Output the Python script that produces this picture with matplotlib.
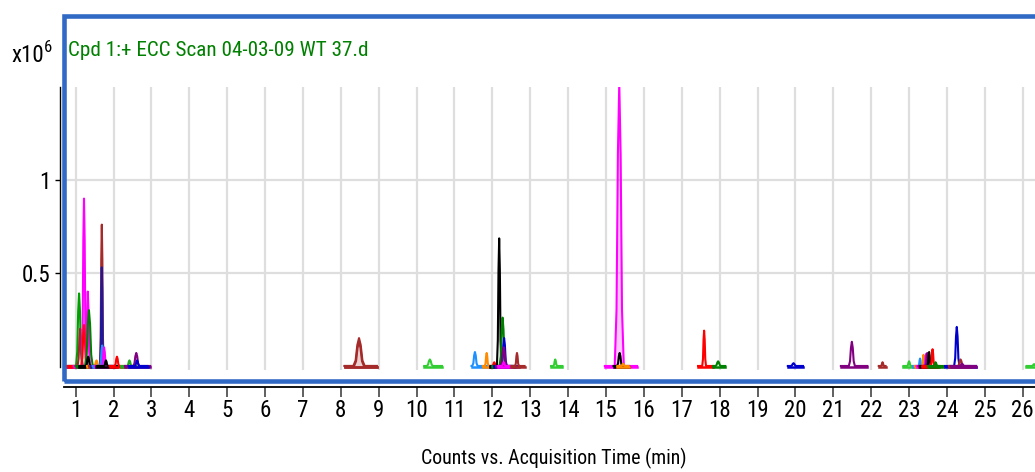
import os
import matplotlib
matplotlib.use("Agg")
import matplotlib.pyplot as plt
from matplotlib import font_manager
from matplotlib.font_manager import FontProperties
from matplotlib.patches import Rectangle

# ---------------- data (intensity in units of 1e6 counts, time in min) ----------------
peak_rt = [1.09, 1.12, 1.22, 1.22, 1.32, 1.35, 1.33, 1.55, 1.69, 1.69, 1.70, 1.75, 1.80,
           2.09, 2.42, 2.60, 2.62,
           8.48, 8.48, 10.35, 11.54, 11.85, 12.05, 12.18, 12.27, 12.31, 12.30, 12.30, 12.65, 13.66,
           15.35, 15.36, 15.45,
           17.59, 17.96, 19.95, 21.49, 22.30, 23.00, 23.29, 23.38, 23.45, 23.48, 23.53, 23.62, 23.70,
           24.26, 24.36, 24.40, 26.30]
peak_height = [0.39, 0.20, 0.90, 0.22, 0.40, 0.30, 0.05, 0.03, 0.76, 0.53, 0.11, 0.10, 0.03,
               0.05, 0.03, 0.07, 0.03,
               0.15, 0.13, 0.035, 0.075, 0.07, 0.02, 0.686, 0.26, 0.15, 0.10, 0.02, 0.07, 0.035,
               1.52, 0.07, 0.012,
               0.19, 0.025, 0.015, 0.13, 0.02, 0.025, 0.04, 0.06, 0.065, 0.07, 0.075, 0.09, 0.02,
               0.21, 0.035, 0.012, 0.01]
peak_halfwidth = [0.08, 0.07, 0.06, 0.07, 0.06, 0.10, 0.06, 0.06, 0.05, 0.04, 0.06, 0.06, 0.05,
                  0.06, 0.06, 0.08, 0.06,
                  0.15, 0.13, 0.08, 0.07, 0.05, 0.05, 0.06, 0.08, 0.07, 0.08, 0.05, 0.05, 0.05,
                  0.12, 0.07, 0.05,
                  0.05, 0.07, 0.07, 0.08, 0.04, 0.05, 0.04, 0.04, 0.05, 0.05, 0.05, 0.05, 0.05,
                  0.07, 0.07, 0.06, 0.05]
trace_start = [0.72, 0.72, 0.80, 0.80, 0.95, 1.00, 1.10, 1.30, 1.35, 1.40, 1.45, 1.50, 1.55,
               1.90, 2.20, 2.30, 2.40,
               8.10, 8.10, 10.20, 11.45, 11.75, 11.95, 11.95, 12.00, 12.05, 12.10, 12.15, 12.50, 13.55,
               14.97, 15.20, 15.30,
               17.43, 17.83, 19.80, 21.20, 22.20, 22.85, 23.10, 23.15, 23.20, 23.25, 23.30, 23.35, 23.50,
               23.95, 24.05, 24.10, 26.10]
trace_end = [1.50, 1.45, 1.60, 1.55, 1.70, 1.75, 1.60, 1.80, 2.00, 1.95, 2.00, 2.05, 2.10,
             2.30, 2.60, 2.97, 2.90,
             8.95, 8.95, 10.67, 11.90, 12.10, 12.20, 12.55, 12.60, 12.60, 12.70, 12.50, 12.85, 13.85,
             15.82, 15.60, 15.60,
             17.83, 18.15, 20.20, 21.90, 22.38, 23.20, 23.50, 23.60, 23.70, 23.70, 23.75, 23.80, 23.90,
             24.77, 24.60, 24.77, 26.60]
peak_color = ["#00a000", "#a02828", "#ff00ff", "#ff0000", "#ff00ff", "#008000", "#000000", "#ff8c00",
              "#a52a2a", "#1a1aa0", "#1e90ff", "#ff00ff", "#000000",
              "#ff0000", "#22aa22", "#800080", "#0000cd",
              "#a52a2a", "#a52a2a", "#32cd32", "#1e90ff", "#ff8c00", "#ff0000", "#000000", "#008000",
              "#0000cd", "#800080", "#ff00ff", "#a52a2a", "#32cd32",
              "#ff00ff", "#000000", "#ff8c00",
              "#ff0000", "#008000", "#0000cd", "#800080", "#a52a2a", "#32cd32", "#1e90ff", "#ff8c00",
              "#ff00ff", "#800080", "#000000", "#ff0000", "#008000",
              "#0000cd", "#a52a2a", "#800080", "#32cd32"]
peak_filled = [False] * len(peak_rt)
for _i in (17, 30, 47):
    peak_filled[_i] = True

x_ticks = list(range(1, 27))
y_ticks = [0.5, 1.0]
y_tick_labels = ["0.5", "1"]
title_text = "Cpd 1:+ ECC Scan 04-03-09 WT 37.d"
x_label = "Counts vs. Acquisition Time (min)"


# ---------------- fonts: look for a narrow/condensed sans ----------------
def pick_font():
    prefs = ["liberationsansnarrow-regular", "robotocondensed-regular", "notosans-condensed.",
             "notosans-condensedregular", "opensans_condensed-regular", "opensanscondensed",
             "dejavusanscondensed."]
    entries = font_manager.fontManager.ttflist
    files = [(os.path.basename(f.fname).lower(), f.fname) for f in entries]
    for p in prefs:
        for base, full in files:
            if base.startswith(p) or p in base:
                return full
    for f in entries:
        base = os.path.basename(f.fname).lower()
        if (("narrow" in base or "condensed" in base) and f.weight in (400, "normal")
                and f.style == "normal" and "extra" not in base and "semi" not in base
                and "bold" not in base and "light" not in base and "italic" not in base):
            return f.fname
    return None


FONT_FILE = pick_font()
SCALE = 1.0 if FONT_FILE else 0.85


def fp(size):
    if FONT_FILE:
        return FontProperties(fname=FONT_FILE, size=size * SCALE)
    return FontProperties(family="Liberation Sans", size=size * SCALE)


W, H = 1035, 472
fig = plt.figure(figsize=(W / 100, H / 100), dpi=100)
fig.patch.set_facecolor("white")

xlim = (0.7, 26.5)
ylim = (-0.02, 1.5)
ax_left = 64.3 / W
ax_right = (75.7 + (xlim[1] - 1) * 37.88) / W
ax_bottom = (H - 369.7) / H
ax_top = (H - 87.0) / H
ax = fig.add_axes([ax_left, ax_bottom, ax_right - ax_left, ax_top - ax_bottom])
ax.set_xlim(*xlim)
ax.set_ylim(*ylim)
ax.set_facecolor("white")

# grid
ax.set_xticks(x_ticks)
ax.set_yticks(y_ticks)
ax.set_yticklabels(y_tick_labels)
ax.grid(True, color="#dedede", linewidth=1.6, zorder=0)
ax.set_axisbelow(True)

# traces (peak drawn as a rounded profile between its base points)
for rt, h, w, s, e, c, filled in zip(peak_rt, peak_height, peak_halfwidth,
                                     trace_start, trace_end, peak_color, peak_filled):
    xs = [s, rt - w, rt - 0.6 * w, rt - 0.3 * w, rt, rt + 0.3 * w, rt + 0.6 * w, rt + w, e]
    ys = [0, 0, 0.2 * h, 0.75 * h, h, 0.75 * h, 0.2 * h, 0, 0]
    if filled:
        ax.fill_between(xs, ys, 0, color=c, alpha=0.22, linewidth=0, zorder=2)
    ax.plot(xs, ys, color=c, linewidth=1.5, solid_joinstyle="round", zorder=3)
    ax.plot([s, e], [-0.008, -0.008], color=c, linewidth=1.8, zorder=3)

# spines
for sp in ("top", "right"):
    ax.spines[sp].set_visible(False)
ax.spines["left"].set_position(("outward", 3.1))
ax.spines["left"].set_bounds(-0.005, 1.5)
ax.spines["left"].set_linewidth(1.0)
ax.spines["bottom"].set_position(("outward", 12.5))
ax.spines["bottom"].set_linewidth(1.3)

ax.tick_params(axis="x", length=7.2, width=1.2, color="#444444", pad=1.5, labelcolor="black")
ax.tick_params(axis="y", length=3.6, width=1.0, color="black", pad=3, labelcolor="black")
for lab in ax.get_xticklabels() + ax.get_yticklabels():
    lab.set_fontproperties(fp(16.5))

# blue frame
frame = Rectangle((64 / W, (H - 380.5) / H), 1.2, (380.5 - 15.5) / H,
                  transform=fig.transFigure, fill=False, edgecolor="#316ac5",
                  linewidth=3.3, zorder=10, clip_on=False)
fig.add_artist(frame)

# texts
fig.text(68 / W, 1 - 56 / H, title_text, color="#008000", fontproperties=fp(15.2),
         ha="left", va="baseline")
fig.text(11 / W, 1 - 62 / H, "x10", color="black", fontproperties=fp(16.5), ha="left", va="baseline")
fig.text(44 / W, 1 - 52 / H, "6", color="black", fontproperties=fp(12), ha="left", va="baseline")
fig.text(554 / W, 1 - 458 / H, x_label, color="black", fontproperties=fp(14.3),
         ha="center", va="center")

fig.savefig("out.png", dpi=100, facecolor="white")
